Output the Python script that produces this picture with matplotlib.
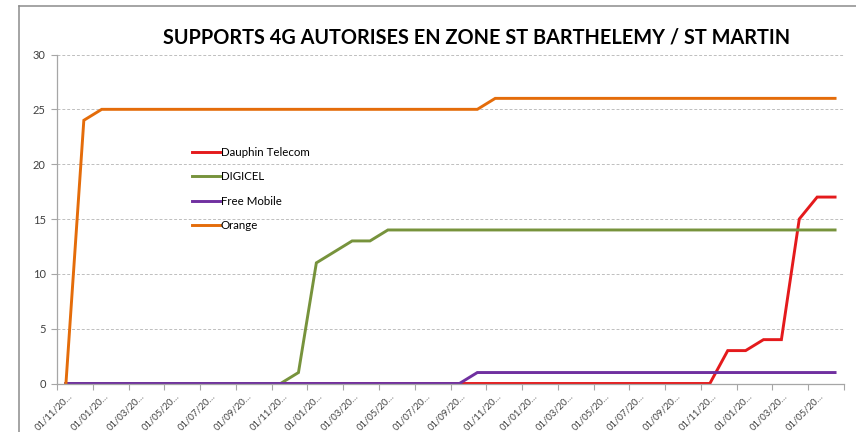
import matplotlib
matplotlib.use("Agg")
import matplotlib.pyplot as plt
import matplotlib.transforms as mtransforms
from matplotlib.lines import Line2D
import numpy as np

plt.rcParams["font.family"] = ["Lato", "DejaVu Sans"]

# Données (un point par mois, de nov. à juin, 44 mois)
dauphin = [0, 0, 0, 0, 0, 0, 0, 0, 0, 0, 0, 0, 0, 0, 0, 0, 0, 0, 0, 0,
           0, 0, 0, 0, 0, 0, 0, 0, 0, 0, 0, 0, 0, 0, 0, 0, 0,
           3, 3, 4, 4, 15, 17, 17]
digicel = [0, 0, 0, 0, 0, 0, 0, 0, 0, 0, 0, 0, 0,
           1, 11, 12, 13, 13, 14,
           14, 14, 14, 14, 14, 14, 14, 14, 14, 14, 14, 14, 14, 14, 14, 14,
           14, 14, 14, 14, 14, 14, 14, 14, 14]
free = [0, 0, 0, 0, 0, 0, 0, 0, 0, 0, 0, 0, 0, 0, 0, 0, 0, 0, 0, 0,
        0, 0, 0,
        1, 1, 1, 1, 1, 1, 1, 1, 1, 1, 1, 1, 1, 1, 1, 1, 1, 1, 1, 1, 1]
orange = [0, 24,
          25, 25, 25, 25, 25, 25, 25, 25, 25, 25, 25, 25, 25, 25, 25, 25,
          25, 25, 25, 25, 25, 25,
          26, 26, 26, 26, 26, 26, 26, 26, 26, 26, 26, 26, 26, 26, 26, 26,
          26, 26, 26, 26]

series_names = ["Dauphin Telecom", "DIGICEL", "Free Mobile", "Orange"]
series_colors = ["#e41a1c", "#77933c", "#7030a0", "#e46c0a"]

tick_labels = ["01/11/20…", "01/01/20…", "01/03/20…", "01/05/20…",
               "01/07/20…", "01/09/20…"] * 3 + \
              ["01/11/20…", "01/01/20…", "01/03/20…", "01/05/20…"]

W, H = 856, 432
fig = plt.figure(figsize=(W / 100, H / 100), dpi=100)
ax = fig.add_axes([57 / W, 1 - 383.5 / H, (844 - 57) / W, (383.5 - 54.5) / H])

x = np.arange(len(orange)) + 0.5
for vals, name, col in zip([dauphin, digicel, free, orange],
                           series_names, series_colors):
    ax.plot(x, vals, color=col, lw=2.1, label=name, solid_joinstyle="miter")

ax.set_xlim(0, len(orange))
ax.set_ylim(0, 30)
ax.set_yticks(range(0, 31, 5))
ax.set_xticks(range(0, len(orange) + 1, 2))
ax.set_xticklabels(tick_labels + [""])
ax.yaxis.grid(True, color="#bfbfbf", ls=(0, (3, 2)), lw=0.7)
ax.set_axisbelow(True)

for s in ("top", "right"):
    ax.spines[s].set_visible(False)
for s in ("left", "bottom"):
    ax.spines[s].set_color("#a6a6a6")
    ax.spines[s].set_linewidth(0.9)

ax.tick_params(axis="y", length=4, color="#a6a6a6", labelsize=8,
               labelcolor="#404040", pad=4)
ax.tick_params(axis="x", length=4, color="#a6a6a6", labelsize=6.8,
               labelcolor="#404040", pad=0)
decal = mtransforms.ScaledTranslation(0.14, -0.055, fig.dpi_scale_trans)
for lab in ax.get_xticklabels():
    lab.set_rotation(45)
    lab.set_ha("right")
    lab.set_va("center")
    lab.set_rotation_mode("anchor")
    lab.set_transform(lab.get_transform() + decal)

fig.text(477 / W, 1 - 37 / H, "SUPPORTS 4G AUTORISES EN ZONE ST BARTHELEMY / ST MARTIN",
         ha="center", va="center", fontsize=14.3, fontweight="bold", color="black")

ax.legend(loc="upper left", bbox_to_anchor=(192 / W, 1 - 147 / H),
          bbox_transform=fig.transFigure, frameon=False, fontsize=8.3,
          handlelength=2.4, handletextpad=0.1, labelspacing=1.17,
          borderaxespad=0, borderpad=0)

# cadre du graphique
fig.add_artist(Line2D([18.5 / W, 1], [1 - 6 / H, 1 - 6 / H],
                      color="#8c8c8c", lw=1.1))
fig.add_artist(Line2D([18.5 / W, 18.5 / W], [0, 1 - 6 / H],
                      color="#8c8c8c", lw=1.1))

fig.savefig("out.png", dpi=100, facecolor="white")
